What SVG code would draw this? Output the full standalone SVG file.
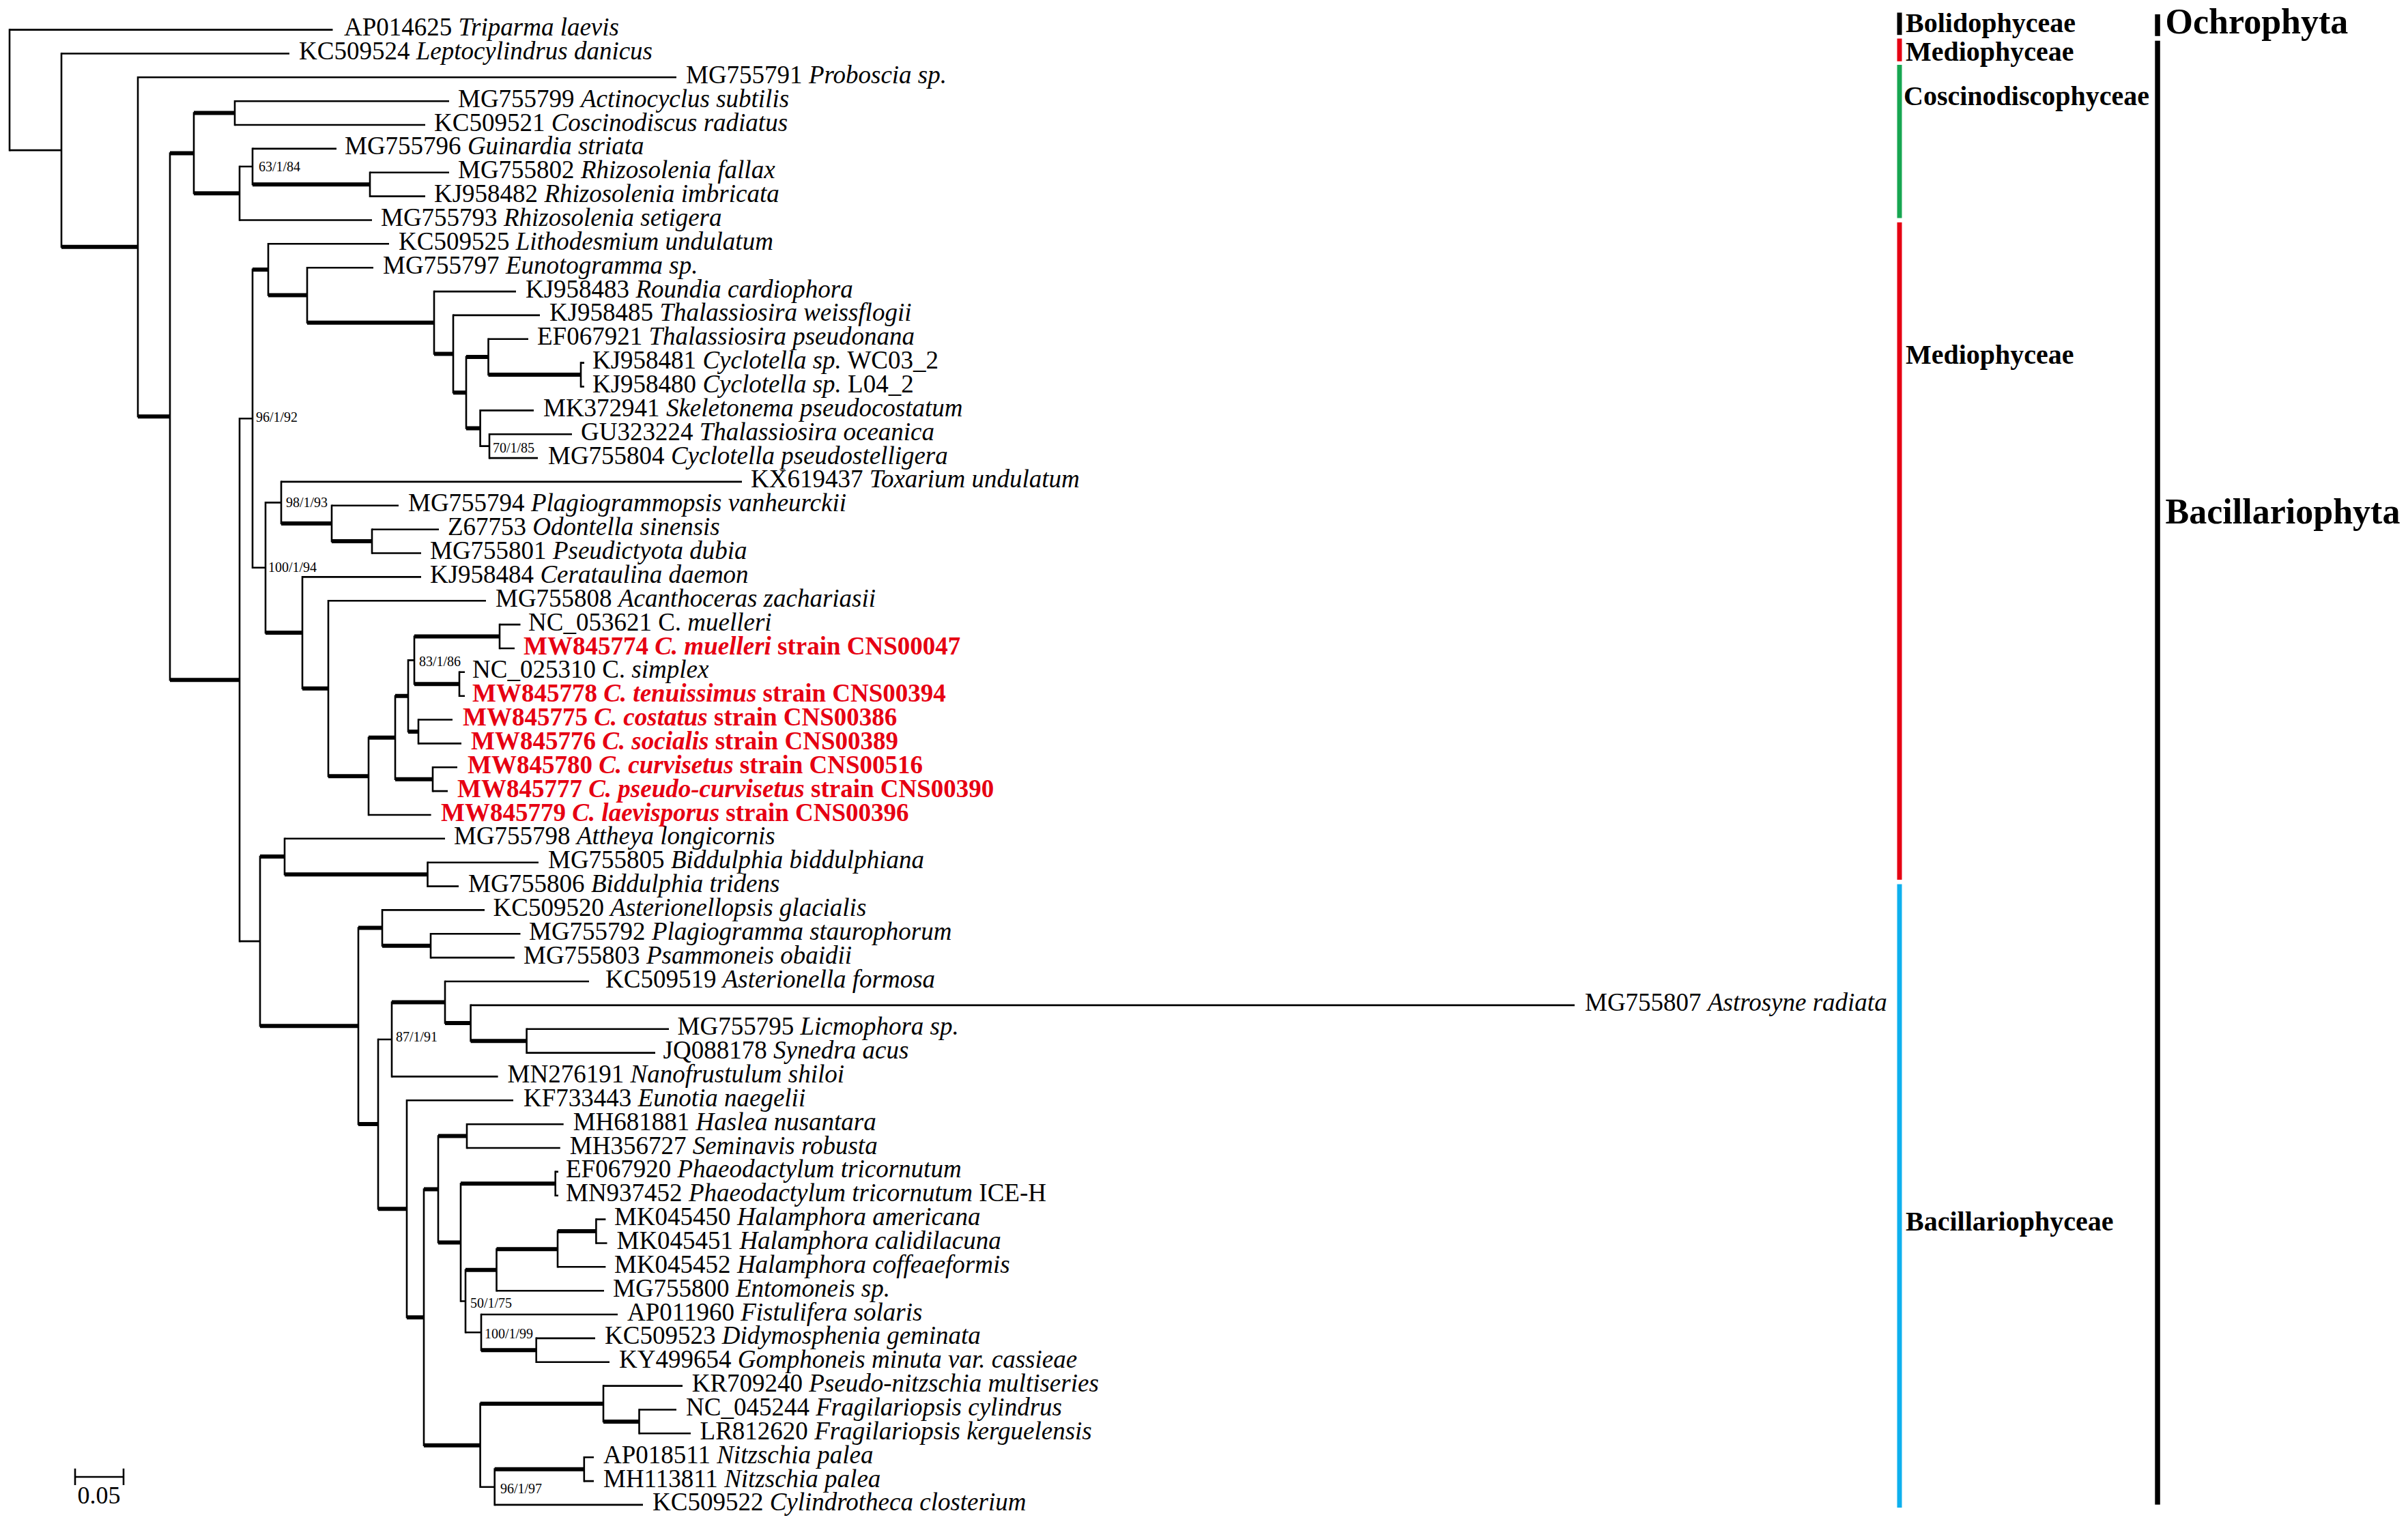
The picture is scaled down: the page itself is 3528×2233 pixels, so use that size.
<svg xmlns="http://www.w3.org/2000/svg" width="3528" height="2233" viewBox="0 0 3528 2233">
<style>
text{font-family:"Liberation Serif","Times New Roman",serif;fill:#000}
.lab{font-size:37px}
.i{font-style:italic}
.red{fill:#e60012;font-weight:bold}
.sup{font-size:20px}
.clade{font-size:40px;font-weight:bold}
.phy{font-size:52px;font-weight:bold}
.thin{fill:none;stroke:#000;stroke-width:2.6}
.thick{fill:none;stroke:#000;stroke-width:6}
.vert{fill:none;stroke:#000;stroke-width:2.6;stroke-linecap:square}
</style>
<rect width="3528" height="2233" fill="#fff"/>
<g id="connectors">
<path class="vert" d="M14 43.6V220.15M90 78.5V361.8M202 113.3V610.3M249 224.45V996.2M284 165.6V283.3M344 148.2V183M351 244.05V322.5M370 217.9V270.2M542 252.8V287.6M351 613.3V1379.15M370 394.9V831.75M393 357.3V432.5M450 392.2V472.8M636 427.1V518.55M664 461.9V575.2M683 522.9V627.5M715.5 496.8V549.05M851 531.6V566.5M703.6 601.4V653.65M717 636.2V671.1M389 736.4V927.1M412 705.9V766.95M486 740.8V793.1M545 775.7V810.5M443 845.4V1008.8M481 880.2V1137.35M540 1080.7V1194M579 1019.7V1141.7M598 967.4V1071.95M607 932.55V1002.25M732 915.1V950M673 984.8V1019.7M613 1054.5V1089.4M634 1124.3V1159.1M381 1255V1503.3M417 1228.8V1281.15M626.5 1263.7V1298.6M525 1359.55V1647.1M560 1333.4V1385.7M631 1368.3V1403.1M554 1522.95V1771.2M574 1468.5V1577.4M652 1438V1499M689.6 1472.9V1525.15M771.6 1507.7V1542.6M596 1612.3V1930.15M621 1742.5V2117.8M642 1664.6V1820.4M684 1647.2V1682M675 1734.3V1906.45M813.7 1716.9V1751.7M682 1860.7V1952.2M727.5 1830.2V1891.2M817 1804.05V1856.3M873.4 1786.6V1821.5M705 1926V1978.35M785.7 1960.9V1995.8M703.6 2056.75V2178.8M884 2030.6V2082.9M936.5 2065.5V2100.3M724.7 2152.65V2204.9M855.8 2135.2V2170.1"/>
<path class="thin" d="M14 220.15H90M351 244.05H370M351 613.3H370M703.6 653.65H717M370 831.75H389M389 736.4H412M598 967.4H607M351 1379.15H381M554 1522.95H574M675 1906.45H682M682 1952.2H705M703.6 2178.8H724.7"/>
<path class="thin" d="M14 43.6H487.5M90 78.5H424M202 113.3H991M344 148.2H658M344 183H623M370 217.9H493M542 252.8H658M542 287.6H623M351 322.5H545M393 357.3H570M450 392.2H547M636 427.1H756M664 461.9H791M715.5 496.8H774M851 531.6H856M851 566.5H856M703.6 601.4H782M717 636.2H838M717 671.1H788M412 705.9H1087M486 740.8H584M545 775.7H643M545 810.5H617M443 845.4H617M481 880.2H712M732 915.1H762.5M732 950H754M673 984.8H681M673 1019.7H681M613 1054.5H663M613 1089.4H676M634 1124.3H670M634 1159.1H656M540 1194H631.6M417 1228.8H652M626.5 1263.7H789M626.5 1298.6H672M560 1333.4H710M631 1368.3H762.5M631 1403.1H754M652 1438H863M689.6 1472.9H2307M771.6 1507.7H980M771.6 1542.6H960M574 1577.4H729.6M596 1612.3H752M684 1647.2H825.7M684 1682H820.8M813.7 1716.9H818M813.7 1751.7H818M873.4 1786.6H887.4M873.4 1821.5H889.5M817 1856.3H887.4M727.5 1891.2H885M705 1926H905M785.7 1960.9H872M785.7 1995.8H893M884 2030.6H1000M936.5 2065.5H991M936.5 2100.3H1012M855.8 2135.2H870M855.8 2170.1H870M724.7 2204.9H942"/>
<path class="thick" d="M90 361.8H202M202 610.3H249M249 224.45H284M284 165.6H344M284 283.3H351M370 270.2H542M249 996.2H351M370 394.9H393M393 432.5H450M450 472.8H636M636 518.55H664M664 575.2H683M683 522.9H715.5M715.5 549.05H851M683 627.5H703.6M412 766.95H486M486 793.1H545M389 927.1H443M443 1008.8H481M481 1137.35H540M540 1080.7H579M579 1019.7H598M607 932.55H732M607 1002.25H673M598 1071.95H613M579 1141.7H634M381 1255H417M417 1281.15H626.5M381 1503.3H525M525 1359.55H560M560 1385.7H631M525 1647.1H554M574 1468.5H652M652 1499H689.6M689.6 1525.15H771.6M554 1771.2H596M596 1930.15H621M621 1742.5H642M642 1664.6H684M642 1820.4H675M675 1734.3H813.7M682 1860.7H727.5M727.5 1830.2H817M817 1804.05H873.4M705 1978.35H785.7M621 2117.8H703.6M703.6 2056.75H884M884 2082.9H936.5M724.7 2152.65H855.8"/>
</g>
<g id="taxa" class="lab">
<g id="t01"><text x="504" y="52.1">AP014625 <tspan class="i">Triparma laevis</tspan></text></g>
<g id="t02"><text x="438" y="87">KC509524 <tspan class="i">Leptocylindrus danicus</tspan></text></g>
<g id="t03"><text x="1005" y="121.8">MG755791 <tspan class="i">Proboscia sp.</tspan></text></g>
<g id="t04"><text x="671" y="156.7">MG755799 <tspan class="i">Actinocyclus subtilis</tspan></text></g>
<g id="t05"><text x="636" y="191.5">KC509521 <tspan class="i">Coscinodiscus radiatus</tspan></text></g>
<g id="t06"><text x="505" y="226.4">MG755796 <tspan class="i">Guinardia striata</tspan></text></g>
<g id="t07"><text x="671" y="261.3">MG755802 <tspan class="i">Rhizosolenia fallax</tspan></text></g>
<g id="t08"><text x="636" y="296.1">KJ958482 <tspan class="i">Rhizosolenia imbricata</tspan></text></g>
<g id="t09"><text x="558" y="331">MG755793 <tspan class="i">Rhizosolenia setigera</tspan></text></g>
<g id="t10"><text x="584" y="365.8">KC509525 <tspan class="i">Lithodesmium undulatum</tspan></text></g>
<g id="t11"><text x="561" y="400.7">MG755797 <tspan class="i">Eunotogramma sp.</tspan></text></g>
<g id="t12"><text x="770" y="435.6">KJ958483 <tspan class="i">Roundia cardiophora</tspan></text></g>
<g id="t13"><text x="805" y="470.4">KJ958485 <tspan class="i">Thalassiosira weissflogii</tspan></text></g>
<g id="t14"><text x="787" y="505.3">EF067921 <tspan class="i">Thalassiosira pseudonana</tspan></text></g>
<g id="t15"><text x="868" y="540.1">KJ958481 <tspan class="i">Cyclotella sp.</tspan> WC03_2</text></g>
<g id="t16"><text x="868" y="575">KJ958480 <tspan class="i">Cyclotella sp.</tspan> L04_2</text></g>
<g id="t17"><text x="796" y="609.9">MK372941 <tspan class="i">Skeletonema pseudocostatum</tspan></text></g>
<g id="t18"><text x="851" y="644.7">GU323224 <tspan class="i">Thalassiosira oceanica</tspan></text></g>
<g id="t19"><text x="803" y="679.6">MG755804 <tspan class="i">Cyclotella pseudostelligera</tspan></text></g>
<g id="t20"><text x="1100" y="714.4">KX619437 <tspan class="i">Toxarium undulatum</tspan></text></g>
<g id="t21"><text x="598" y="749.3">MG755794 <tspan class="i">Plagiogrammopsis vanheurckii</tspan></text></g>
<g id="t22"><text x="656" y="784.2">Z67753 <tspan class="i">Odontella sinensis</tspan></text></g>
<g id="t23"><text x="630" y="819">MG755801 <tspan class="i">Pseudictyota dubia</tspan></text></g>
<g id="t24"><text x="630" y="853.9">KJ958484 <tspan class="i">Cerataulina daemon</tspan></text></g>
<g id="t25"><text x="726" y="888.7">MG755808 <tspan class="i">Acanthoceras zachariasii</tspan></text></g>
<g id="t26"><text x="774" y="923.6">NC_053621 C. <tspan class="i">muelleri</tspan></text></g>
<g id="t27"><text class="red" x="767" y="958.5">MW845774 <tspan class="i">C. muelleri</tspan> strain CNS00047</text></g>
<g id="t28"><text x="692" y="993.3">NC_025310 C. <tspan class="i">simplex</tspan></text></g>
<g id="t29"><text class="red" x="692" y="1028.2">MW845778 <tspan class="i">C. tenuissimus</tspan> strain CNS00394</text></g>
<g id="t30"><text class="red" x="678" y="1063">MW845775 <tspan class="i">C. costatus</tspan> strain CNS00386</text></g>
<g id="t31"><text class="red" x="690" y="1097.9">MW845776 <tspan class="i">C. socialis</tspan> strain CNS00389</text></g>
<g id="t32"><text class="red" x="685" y="1132.8">MW845780 <tspan class="i">C. curvisetus</tspan> strain CNS00516</text></g>
<g id="t33"><text class="red" x="670" y="1167.6">MW845777 <tspan class="i">C. pseudo-curvisetus</tspan> strain CNS00390</text></g>
<g id="t34"><text class="red" x="646" y="1202.5">MW845779 <tspan class="i">C. laevisporus</tspan> strain CNS00396</text></g>
<g id="t35"><text x="665" y="1237.3">MG755798 <tspan class="i">Attheya longicornis</tspan></text></g>
<g id="t36"><text x="803" y="1272.2">MG755805 <tspan class="i">Biddulphia biddulphiana</tspan></text></g>
<g id="t37"><text x="686" y="1307.1">MG755806 <tspan class="i">Biddulphia tridens</tspan></text></g>
<g id="t38"><text x="722.5" y="1341.9">KC509520 <tspan class="i">Asterionellopsis glacialis</tspan></text></g>
<g id="t39"><text x="775" y="1376.8">MG755792 <tspan class="i">Plagiogramma staurophorum</tspan></text></g>
<g id="t40"><text x="767" y="1411.6">MG755803 <tspan class="i">Psammoneis obaidii</tspan></text></g>
<g id="t41"><text x="887" y="1446.5">KC509519 <tspan class="i">Asterionella formosa</tspan></text></g>
<g id="t42"><text x="2322" y="1481.4">MG755807 <tspan class="i">Astrosyne radiata</tspan></text></g>
<g id="t43"><text x="992.6" y="1516.2">MG755795 <tspan class="i">Licmophora sp.</tspan></text></g>
<g id="t44"><text x="971.6" y="1551.1">JQ088178 <tspan class="i">Synedra acus</tspan></text></g>
<g id="t45"><text x="743.6" y="1585.9">MN276191 <tspan class="i">Nanofrustulum shiloi</tspan></text></g>
<g id="t46"><text x="767" y="1620.8">KF733443 <tspan class="i">Eunotia naegelii</tspan></text></g>
<g id="t47"><text x="839.7" y="1655.7">MH681881 <tspan class="i">Haslea nusantara</tspan></text></g>
<g id="t48"><text x="834.8" y="1690.5">MH356727 <tspan class="i">Seminavis robusta</tspan></text></g>
<g id="t49"><text x="829" y="1725.4">EF067920 <tspan class="i">Phaeodactylum tricornutum</tspan></text></g>
<g id="t50"><text x="829" y="1760.2">MN937452 <tspan class="i">Phaeodactylum tricornutum</tspan> ICE-H</text></g>
<g id="t51"><text x="900" y="1795.1">MK045450 <tspan class="i">Halamphora americana</tspan></text></g>
<g id="t52"><text x="903.5" y="1830">MK045451 <tspan class="i">Halamphora calidilacuna</tspan></text></g>
<g id="t53"><text x="900" y="1864.8">MK045452 <tspan class="i">Halamphora coffeaeformis</tspan></text></g>
<g id="t54"><text x="898" y="1899.7">MG755800 <tspan class="i">Entomoneis sp.</tspan></text></g>
<g id="t55"><text x="919" y="1934.5">AP011960 <tspan class="i">Fistulifera solaris</tspan></text></g>
<g id="t56"><text x="886" y="1969.4">KC509523 <tspan class="i">Didymosphenia geminata</tspan></text></g>
<g id="t57"><text x="907" y="2004.3">KY499654 <tspan class="i">Gomphoneis minuta var. cassieae</tspan></text></g>
<g id="t58"><text x="1013.7" y="2039.1">KR709240 <tspan class="i">Pseudo-nitzschia multiseries</tspan></text></g>
<g id="t59"><text x="1005" y="2074">NC_045244 <tspan class="i">Fragilariopsis cylindrus</tspan></text></g>
<g id="t60"><text x="1025.6" y="2108.8">LR812620 <tspan class="i">Fragilariopsis kerguelensis</tspan></text></g>
<g id="t61"><text x="884" y="2143.7">AP018511 <tspan class="i">Nitzschia palea</tspan></text></g>
<g id="t62"><text x="884" y="2178.6">MH113811 <tspan class="i">Nitzschia palea</tspan></text></g>
<g id="t63"><text x="956" y="2213.4">KC509522 <tspan class="i">Cylindrotheca closterium</tspan></text></g>
</g>
<g id="support" class="sup">
<g id="s1"><text x="379" y="250.7">63/1/84</text></g>
<g id="s2"><text x="375" y="617.7">96/1/92</text></g>
<g id="s3"><text x="722" y="662.7">70/1/85</text></g>
<g id="s4"><text x="419" y="742.7">98/1/93</text></g>
<g id="s5"><text x="393" y="837.7">100/1/94</text></g>
<g id="s6"><text x="614" y="975.7">83/1/86</text></g>
<g id="s7"><text x="580" y="1525.7">87/1/91</text></g>
<g id="s8"><text x="689" y="1915.7">50/1/75</text></g>
<g id="s9"><text x="710" y="1960.7">100/1/99</text></g>
<g id="s10"><text x="733" y="2187.7">96/1/97</text></g>
</g>
<g id="scale">
<path class="thin" d="M110 2164H181M110 2151.7V2176M181 2151.7V2176"/>
<text x="145" y="2202.5" font-size="36" text-anchor="middle">0.05</text>
</g>
<g id="class-bars">
<g id="bolidophyceae"><rect x="2779.5" y="18.5" width="7" height="32.7" fill="#000"/><text class="clade" x="2792" y="46.5">Bolidophyceae</text></g>
<g id="mediophyceae-1"><rect x="2779.5" y="56.5" width="7" height="33.3" fill="#e60012"/><text class="clade" x="2792" y="88.7">Mediophyceae</text></g>
<g id="coscinodiscophyceae"><rect x="2779.5" y="95" width="7" height="224.5" fill="#17a651"/><text class="clade" x="2789" y="154">Coscinodiscophyceae</text></g>
<g id="mediophyceae-2"><rect x="2779.5" y="325.8" width="7" height="963.2" fill="#e60012"/><text class="clade" x="2792" y="533.4">Mediophyceae</text></g>
<g id="bacillariophyceae"><rect x="2779.5" y="1295.5" width="7" height="913.5" fill="#0eb0ee"/><text class="clade" x="2792" y="1802.8">Bacillariophyceae</text></g>
</g>
<g id="phylum-bars">
<g id="ochrophyta"><rect x="3157.3" y="21" width="7.5" height="31.8" fill="#000"/><text class="phy" x="3172.6" y="48.6">Ochrophyta</text></g>
<g id="bacillariophyta"><rect x="3157.3" y="59.7" width="7.5" height="2144.9" fill="#000"/><text class="phy" x="3172.6" y="767">Bacillariophyta</text></g>
</g>
</svg>
